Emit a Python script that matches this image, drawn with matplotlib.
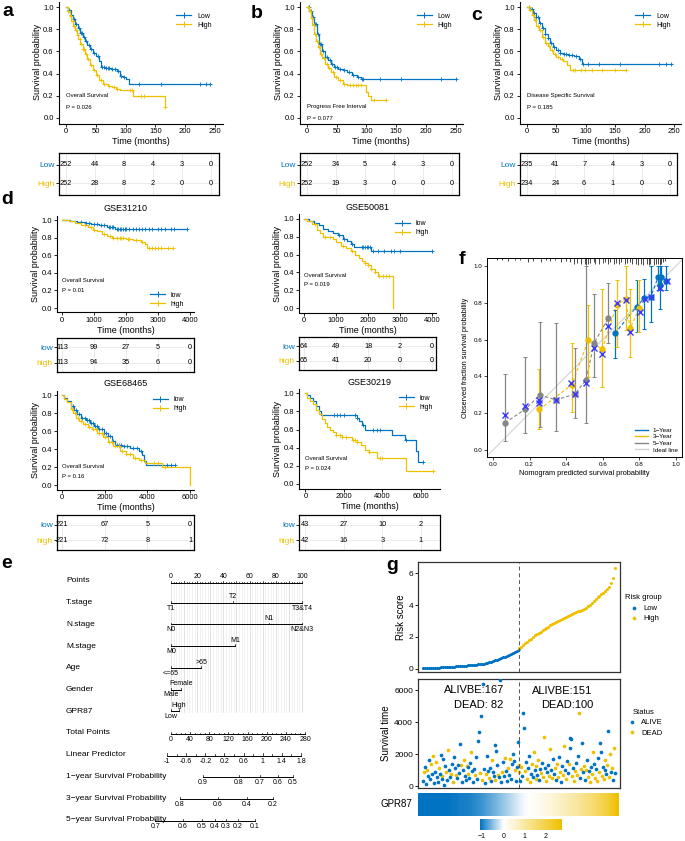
import numpy as np
import matplotlib
matplotlib.use("Agg")
import matplotlib.pyplot as plt
from matplotlib.lines import Line2D
from matplotlib.colors import LinearSegmentedColormap, Normalize

plt.rcParams["font.family"] = ["Liberation Sans", "DejaVu Sans"]

BLUE = "#0073C2"
GOLD = "#EFC000"
GREY = "#868686"

# ---------------- panel a-c : TCGA KM curves (months) ----------------
a_low_t = [0, 4, 8, 12, 16, 20, 24, 28, 32, 36, 40, 45, 50, 55, 58, 65, 75, 85, 90, 96, 101, 105]
a_low_s = [1.0, 0.97, 0.93, 0.89, 0.85, 0.81, 0.77, 0.73, 0.69, 0.66, 0.62, 0.59, 0.56, 0.51, 0.46,
           0.45, 0.44, 0.42, 0.38, 0.37, 0.35, 0.31]
a_low_c = [5, 9, 14, 17, 22, 25, 27, 30, 33, 38, 42, 47, 53, 60, 63, 67, 70, 73, 78, 82, 87, 93, 97,
           122, 160, 225, 235, 242]
a_high_t = [0, 3, 6, 9, 12, 15, 18, 21, 24, 28, 32, 36, 40, 45, 50, 56, 62, 70, 78, 84, 90, 113, 166]
a_high_s = [1.0, 0.96, 0.92, 0.87, 0.83, 0.79, 0.75, 0.71, 0.67, 0.62, 0.58, 0.53, 0.48, 0.43, 0.39,
            0.34, 0.31, 0.29, 0.28, 0.26, 0.25, 0.20, 0.10]
a_high_c = [4, 8, 11, 14, 17, 20, 23, 26, 29, 31, 34, 37, 42, 47, 52, 58, 64, 72, 80, 86, 108, 111,
            126, 131, 166]

b_low_t = [0, 4, 8, 12, 16, 20, 25, 30, 35, 40, 46, 52, 60, 68, 76, 84, 90]
b_low_s = [1.0, 0.96, 0.91, 0.85, 0.76, 0.67, 0.60, 0.55, 0.52, 0.49, 0.46, 0.44, 0.43, 0.41, 0.39,
           0.37, 0.35]
b_low_c = [3, 7, 10, 13, 15, 18, 21, 24, 27, 31, 34, 38, 42, 47, 50, 55, 62, 70, 78, 86, 92, 95,
           122, 158, 225, 250]
b_high_t = [0, 3, 6, 9, 12, 15, 18, 22, 26, 30, 35, 40, 46, 52, 60, 68, 100, 103, 108]
b_high_s = [1.0, 0.96, 0.90, 0.84, 0.76, 0.69, 0.64, 0.58, 0.54, 0.49, 0.45, 0.41, 0.37, 0.34, 0.31,
            0.30, 0.23, 0.20, 0.16]
b_high_c = [2, 5, 8, 11, 14, 17, 20, 24, 28, 33, 37, 43, 48, 55, 63, 72, 78, 82, 86, 90, 112, 133]

c_low_t = [0, 5, 10, 15, 20, 25, 30, 35, 40, 45, 50, 56, 62, 70, 80, 88, 93]
c_low_s = [1.0, 0.98, 0.95, 0.91, 0.86, 0.81, 0.76, 0.72, 0.68, 0.64, 0.61, 0.59, 0.58, 0.57, 0.56,
           0.53, 0.49]
c_low_c = [4, 8, 12, 16, 19, 23, 27, 31, 36, 41, 46, 52, 57, 63, 67, 72, 77, 83, 90, 96, 104, 122,
           158, 225, 236, 245]
c_high_t = [0, 4, 8, 12, 16, 20, 25, 30, 35, 40, 45, 50, 56, 62, 68, 74]
c_high_s = [1.0, 0.97, 0.93, 0.88, 0.83, 0.79, 0.73, 0.68, 0.65, 0.61, 0.58, 0.55, 0.53, 0.51, 0.48,
            0.435]
c_high_c = [3, 6, 10, 14, 18, 22, 27, 33, 38, 43, 48, 53, 60, 78, 82, 92, 98, 110, 128, 150, 168]

tcga_ticks = [0, 50, 100, 150, 200, 250]
a_risk = ([252, 44, 8, 4, 3, 0], [252, 28, 8, 2, 0, 0])
b_risk = ([252, 34, 5, 4, 3, 0], [252, 19, 3, 0, 0, 0])
c_risk = ([235, 41, 7, 4, 3, 0], [234, 24, 6, 1, 0, 0])

# ---------------- panel d : GEO validation cohorts ----------------
g312_low_t = [0, 250, 450, 700, 900, 1150, 1400, 1650]
g312_low_s = [1.0, 0.99, 0.98, 0.97, 0.96, 0.94, 0.92, 0.90]
g312_low_c = [600, 750, 850, 1000, 1100, 1200, 1300, 1450, 1500, 1550, 1600, 1700, 1750, 1800, 1850,
              1900, 1950, 2000, 2100, 2200, 2300, 2400, 2500, 2600, 2700, 2800, 3000, 3100, 3200,
              3400, 3500, 3900]
g312_high_t = [0, 200, 400, 600, 800, 950, 1100, 1250, 1400, 1550, 1750, 2000, 2200, 2450, 2600, 2650]
g312_high_s = [1.0, 0.99, 0.97, 0.94, 0.92, 0.89, 0.87, 0.84, 0.82, 0.80, 0.79, 0.78, 0.77, 0.75,
               0.73, 0.68]
g312_high_c = [700, 900, 1000, 1300, 1500, 1600, 1700, 1800, 1850, 1900, 2050, 2100, 2300, 2500,
               2700, 2800, 2900, 3000, 3100, 3300, 3450]

g500_low_t = [0, 150, 300, 450, 600, 750, 900, 1050, 1200, 1350, 1450, 1550, 2100]
g500_low_s = [1.0, 0.98, 0.96, 0.93, 0.89, 0.86, 0.84, 0.82, 0.78, 0.75, 0.72, 0.68, 0.64]
g500_low_c = [1100, 1250, 1500, 1800, 1850, 1900, 1950, 2000, 2050, 2150, 2300, 2500, 2700, 2800,
              3000, 3980]
g500_high_t = [0, 100, 250, 400, 500, 600, 900, 1000, 1150, 1300, 1450, 1600, 1700, 1800, 1900,
               2000, 2100, 2200, 2300, 2780]
g500_high_s = [1.0, 0.98, 0.94, 0.88, 0.84, 0.80, 0.78, 0.74, 0.70, 0.67, 0.64, 0.60, 0.56, 0.53,
               0.51, 0.48, 0.44, 0.40, 0.36, 0.0]
g500_high_c = [350, 650, 800, 1200, 1500, 1900, 2000, 2100, 2200, 2350, 2450, 2550, 2650]

g684_low_t = [0, 100, 250, 400, 550, 700, 900, 1100, 1300, 1500, 1700, 1950, 2150, 2350, 2500, 2800,
              3200, 3600, 3750, 3850, 3950]
g684_low_s = [1.0, 0.97, 0.93, 0.88, 0.83, 0.79, 0.75, 0.72, 0.69, 0.66, 0.62, 0.58, 0.54, 0.49, 0.45,
              0.43, 0.41, 0.38, 0.33, 0.27, 0.22]
g684_low_c = [500, 650, 800, 950, 1050, 1150, 1250, 1350, 1450, 1550, 1650, 1750, 1850, 1950, 2050,
              2150, 2250, 2400, 2550, 2650, 2750, 2900, 3050, 3300, 3500, 3700, 4700, 4900, 5100, 5300]
g684_high_t = [0, 100, 250, 400, 500, 650, 800, 1000, 1200, 1400, 1650, 1900, 2150, 2400, 2700, 3000,
               3300, 3600, 3900, 4700, 6000]
g684_high_s = [1.0, 0.96, 0.92, 0.85, 0.80, 0.75, 0.71, 0.68, 0.65, 0.62, 0.58, 0.53, 0.48, 0.43, 0.38,
               0.34, 0.30, 0.28, 0.25, 0.20, 0.0]
g684_high_c = [450, 600, 750, 900, 1050, 1250, 1450, 1600, 1750, 1850, 2000, 2200, 2350, 2500, 2650,
               2800, 3000, 3200, 3400, 3700, 4300, 4500, 4800]

g302_low_t = [0, 100, 250, 400, 550, 700, 800, 2700, 2800, 2950, 3100, 4500, 5200, 5750, 5850]
g302_low_s = [1.0, 0.98, 0.95, 0.91, 0.86, 0.81, 0.76, 0.73, 0.69, 0.65, 0.60, 0.54, 0.48, 0.36, 0.24]
g302_low_c = [1500, 1650, 1800, 2000, 2600, 2700, 3000, 3500, 3700, 3900, 5250, 6100]
g302_high_t = [0, 100, 250, 400, 550, 700, 850, 1000, 1150, 1300, 1450, 1600, 1900, 2400, 2700, 2900,
               3100, 3300, 3700, 5250]
g302_high_s = [1.0, 0.95, 0.91, 0.88, 0.82, 0.77, 0.72, 0.67, 0.63, 0.60, 0.57, 0.54, 0.52, 0.49, 0.46,
               0.43, 0.38, 0.35, 0.29, 0.14]
g302_high_c = [1600, 1800, 1900, 2100, 2500, 2600, 2700, 3300, 3900, 4000, 6650]

g312_risk = ([113, 99, 27, 5, 0], [113, 94, 35, 6, 0])
g500_risk = ([64, 49, 18, 2, 0], [65, 41, 20, 0, 0])
g684_risk = ([221, 67, 5, 0], [221, 72, 8, 1])
g302_risk = ([43, 27, 10, 2], [42, 16, 3, 1])

# ---------------- panel e : nomogram ----------------
nomo_rows = ["Points", "T.stage", "N.stage", "M.stage", "Age", "Gender", "GPR87", "Total Points",
             "Linear Predictor", "1\u2212year Survival Probability", "3\u2212year Survival Probability",
             "5\u2212year Survival Probability"]
var_levels = [["T1", "T2", "T3&T4"], ["N0", "N1", "N2&N3"], ["M0", "M1"], ["<=65", ">65"],
              ["Male", "Female"], ["Low", "High"]]
var_points = [[0, 47, 100], [0, 75, 100], [0, 49], [0, 23], [0, 8], [0, 6]]
lp_ticks = [-1, -0.6, -0.2, 0.2, 0.6, 1, 1.4, 1.8]
surv1_prob = [0.9, 0.8, 0.7, 0.6, 0.5]
surv1_tp = [67, 142, 186, 223, 255]
surv3_prob = [0.8, 0.6, 0.4, 0.2]
surv3_tp = [19, 98, 159, 213]
surv5_prob = [0.7, 0.6, 0.5, 0.4, 0.3, 0.2, 0.1]
surv5_tp = [-33, 25, 65, 92, 115, 140, 175]

# ---------------- panel f : calibration ----------------
cal1_x = [0.667, 0.785, 0.825, 0.862, 0.904, 0.91, 0.92, 0.944]
cal1_y = [0.634, 0.779, 0.824, 0.833, 0.942, 0.897, 0.94, 0.92]
cal1_lo = [0.498, 0.643, 0.66, 0.697, 0.87, 0.767, 0.87, 0.87]
cal1_hi = [0.761, 0.924, 0.93, 1.0, 1.0, 1.0, 1.0, 1.0]
cal3_x = [0.253, 0.43, 0.521, 0.597, 0.676, 0.725, 0.749, 0.8]
cal3_y = [0.221, 0.353, 0.598, 0.547, 0.788, 0.819, 0.661, 0.77]
cal3_lo = [0.113, 0.208, 0.398, 0.341, 0.561, 0.652, 0.504, 0.643]
cal3_hi = [0.439, 0.583, 0.788, 0.873, 0.924, 1.0, 0.873, 0.924]
cal5_x = [0.066, 0.175, 0.257, 0.344, 0.448, 0.508, 0.552, 0.63]
cal5_y = [0.148, 0.221, 0.299, 0.272, 0.304, 0.38, 0.58, 0.716]
cal5_lo = [0.05, 0.094, 0.127, 0.105, 0.172, 0.145, 0.395, 0.58]
cal5_hi = [0.413, 0.507, 0.697, 0.688, 0.553, 1.0, 0.85, 0.906]
corr_x = [0.067, 0.175, 0.253, 0.253, 0.344, 0.426, 0.446, 0.508, 0.552, 0.597, 0.63, 0.676, 0.725,
          0.749, 0.805, 0.83, 0.862, 0.91, 0.95]
corr_y = [0.188, 0.24, 0.272, 0.255, 0.272, 0.366, 0.303, 0.366, 0.553, 0.522, 0.674, 0.801, 0.815,
          0.643, 0.747, 0.82, 0.83, 0.88, 0.92]
rug_x = [0.02, 0.05, 0.08, 0.12, 0.15, 0.19, 0.22, 0.26, 0.29, 0.31, 0.34, 0.37, 0.40, 0.42, 0.44,
         0.46, 0.48, 0.50, 0.51, 0.52, 0.53, 0.55, 0.56, 0.58, 0.60, 0.61, 0.63, 0.64, 0.66, 0.67,
         0.69, 0.70, 0.72, 0.73, 0.75, 0.76, 0.78, 0.79, 0.81, 0.82, 0.84, 0.85, 0.86, 0.88, 0.89,
         0.90, 0.91, 0.92, 0.93, 0.94]
rug_h = [0.01, 0.01, 0.015, 0.01, 0.01, 0.02, 0.015, 0.02, 0.01, 0.015, 0.01, 0.02, 0.015, 0.02, 0.03,
         0.025, 0.03, 0.035, 0.04, 0.03, 0.025, 0.02, 0.03, 0.035, 0.025, 0.02, 0.03, 0.02, 0.03, 0.025,
         0.035, 0.02, 0.03, 0.025, 0.02, 0.03, 0.035, 0.04, 0.03, 0.04, 0.035, 0.04, 0.03, 0.04, 0.035,
         0.03, 0.04, 0.035, 0.02, 0.015]

# ---------------- panel g : risk score / survival / GPR87 ----------------
risk_low = [0.03, 0.05, 0.06, 0.07, 0.07, 0.08, 0.08, 0.09, 0.09, 0.10,
            0.10, 0.11, 0.12, 0.12, 0.13, 0.14, 0.15, 0.16, 0.17, 0.18,
            0.19, 0.20, 0.21, 0.22, 0.23, 0.24, 0.25, 0.26, 0.28, 0.30,
            0.31, 0.33, 0.35, 0.38, 0.41, 0.44, 0.48, 0.53, 0.58, 0.63,
            0.68, 0.72, 0.76, 0.80, 0.86, 0.92, 0.98, 1.05, 1.12, 1.22]
risk_high = [1.30, 1.40, 1.50, 1.60, 1.70, 1.80, 1.90, 2.00, 2.10, 2.18,
             2.26, 2.34, 2.42, 2.50, 2.58, 2.65, 2.72, 2.79, 2.86, 2.93,
             3.00, 3.06, 3.12, 3.18, 3.24, 3.30, 3.36, 3.42, 3.48, 3.54,
             3.60, 3.64, 3.68, 3.73, 3.82, 3.92, 4.02, 4.12, 4.24, 4.36,
             4.48, 4.58, 4.68, 4.78, 4.90, 5.02, 5.15, 5.35, 5.70, 6.30]
low_time = [320, 850, 1200, 150, 980, 600, 1650, 410, 1350, 720,
            1900, 180, 900, 1500, 560, 260, 1100, 780, 1950, 430,
            640, 1700, 90, 1250, 870, 350, 2250, 1020, 540, 760,
            1400, 280, 1820, 1150, 690, 470, 1300, 830, 2640, 1300,
            220, 990, 1600, 610, 380, 1240, 1180, 750, 500, 1450,
            2100, 930, 270, 1050, 660, 1800, 420, 2800, 3400, 800,
            4400, 360, 6400, 1080, 200, 720, 1900, 950, 490, 1150,
            300, 1650, 860, 630, 2560, 400, 2200, 1330, 710, 540,
            6600, 250, 880, 1480, 620, 1750, 960, 340, 1120, 680,
            1700, 450, 1380, 2000, 1560, 1000, 290, 1200, 2750, 1300]
low_dead = [0, 1, 0, 0, 1, 0, 0, 0, 1, 0,
            1, 0, 0, 1, 0, 0, 1, 0, 0, 0,
            1, 0, 0, 0, 1, 0, 1, 0, 0, 1,
            0, 1, 0, 0, 1, 0, 0, 0, 0, 1,
            0, 0, 1, 0, 0, 1, 0, 1, 0, 0,
            1, 0, 0, 0, 1, 0, 0, 0, 0, 1,
            0, 1, 0, 0, 0, 1, 0, 0, 1, 0,
            0, 1, 0, 0, 0, 1, 0, 0, 1, 0,
            0, 0, 1, 0, 0, 1, 0, 0, 1, 0,
            1, 0, 0, 0, 0, 1, 0, 0, 0, 1]
high_time = [850, 300, 1200, 640, 4560, 3625, 920, 1500, 410, 1100,
             1900, 260, 760, 1350, 580, 2100, 980, 450, 1250, 700,
             1600, 380, 1050, 820, 1450, 540, 3060, 1150, 300, 880,
             1300, 620, 2300, 990, 470, 1700, 760, 1100, 350, 1400,
             560, 1800, 900, 240, 1250, 680, 2500, 1020, 430, 1550,
             790, 1350, 2400, 3000, 2950, 600, 1120, 320, 960, 1450,
             700, 1900, 4560, 480, 1080, 2700, 850, 1280, 390, 1000,
             1650, 560, 920, 280, 1200, 740, 2150, 1400, 500, 1050,
             330, 1750, 860, 2690, 2125, 640, 1180, 420, 980, 1600,
             720, 1300, 3440, 540, 2000, 880, 1150, 400, 2350, 800]
high_dead = [1, 0, 1, 0, 0, 0, 1, 0, 1, 0,
             0, 1, 0, 1, 0, 1, 0, 1, 1, 0,
             1, 0, 0, 1, 0, 1, 1, 0, 1, 0,
             0, 1, 1, 0, 1, 0, 0, 1, 0, 1,
             1, 0, 1, 0, 0, 1, 1, 0, 1, 0,
             0, 1, 0, 0, 0, 1, 0, 1, 1, 0,
             1, 0, 1, 0, 1, 0, 0, 1, 0, 1,
             0, 1, 0, 1, 0, 1, 1, 0, 1, 0,
             1, 0, 1, 0, 0, 1, 0, 1, 0, 1,
             0, 1, 0, 1, 1, 0, 1, 0, 1, 0]
gpr87 = [-1.1, -1.1, -1.1, -1.1, -1.1, -1.1, -1.1, -1.1, -1.05, -1.05,
         -1.0, -1.0, -0.98, -0.95, -0.9, -0.85, -0.8, -0.72, -0.65, -0.58,
         -0.5, -0.42, -0.34, -0.26, -0.18, -0.1, -0.04, 0.0, 0.06, 0.12,
         0.2, 0.28, 0.36, 0.45, 0.55, 0.65, 0.75, 0.85, 0.95, 1.05,
         1.15, 1.28, 1.4, 1.55, 1.7, 1.85, 2.0, 2.2, 2.45, 2.75]
gpr87_range = (-1.1, 2.75)
n_patients = 500
n_low = 249

W, H = 685, 841
fig = plt.figure(figsize=(W / 100, H / 100), dpi=100)


def box(l, t, r, b):
    return fig.add_axes([l / W, 1 - b / H, (r - l) / W, (b - t) / H])


def km_curve(ax, t, s, end, cens, color, label):
    t = np.asarray(t, float)
    s = np.asarray(s, float)
    ax.step(np.append(t, end), np.append(s, s[-1]), where="post", color=color, lw=0.9)
    idx = np.searchsorted(t, cens, side="right") - 1
    ax.plot(cens, s[idx], ls="none", marker="+", color=color, ms=3.5, mew=0.6)
    return Line2D([], [], color=color, marker="+", lw=0.9, ms=4, mew=0.7, label=label)


def km_panel(ax, curves, xlim, xticks, note, pval, note_y, leg_anchor, title=None):
    handles = [km_curve(ax, *c) for c in curves]
    ax.set_xlim(xlim)
    ax.set_ylim(-0.05, 1.05)
    ax.set_xticks(xticks)
    ax.set_yticks([0, 0.2, 0.4, 0.6, 0.8, 1.0])
    ax.set_yticklabels(["0.0", "0.2", "0.4", "0.6", "0.8", "1.0"])
    for sp in ["top", "right"]:
        ax.spines[sp].set_visible(False)
    for sp in ["left", "bottom"]:
        ax.spines[sp].set_linewidth(0.8)
    ax.tick_params(labelsize=5.5, length=2, width=0.6, pad=1.5)
    ax.set_ylabel("Survival probability", fontsize=6.5, labelpad=1)
    ax.set_xlabel("Time (months)", fontsize=6.5, labelpad=1)
    ax.text(xticks[0], note_y, note, fontsize=4.3, va="center")
    ax.text(xticks[0], note_y - 0.11, pval, fontsize=4.3, va="center")
    loc = "upper right" if leg_anchor[1] > 0.5 else "lower right"
    ax.legend(handles=handles, loc=loc, bbox_to_anchor=leg_anchor, fontsize=5,
              frameon=False, handlelength=2.2, labelspacing=0.3, borderaxespad=0.0)
    if title:
        ax.set_title(title, fontsize=6.5, pad=3)


def risk_table(ax, xlim, xticks, counts, names):
    ax.set_xlim(xlim)
    ax.set_ylim(0, 2)
    for x in xticks:
        ax.axvline(x, color="#e8e8e8", lw=0.6, zorder=0)
    for y in (0.55, 1.45):
        ax.axhline(y, color="#e8e8e8", lw=0.6, zorder=0)
    for x, n in zip(xticks, counts[0]):
        ax.text(x, 1.45, str(n), ha="center", va="center", fontsize=5.3)
    for x, n in zip(xticks, counts[1]):
        ax.text(x, 0.55, str(n), ha="center", va="center", fontsize=5.3)
    ax.set_xticks([])
    ax.set_yticks([0.55, 1.45])
    ax.set_yticklabels([names[1], names[0]])
    ax.tick_params(axis="y", labelsize=6, length=2, width=0.6, pad=1)
    labs = ax.get_yticklabels()
    labs[0].set_color(GOLD)
    labs[1].set_color(BLUE)
    for sp in ax.spines.values():
        sp.set_linewidth(0.9)


# ---------- a, b, c ----------
tcga = [
    ((58.5, 222.5), (a_low_t, a_low_s, 242, a_low_c), (a_high_t, a_high_s, 166, a_high_c),
     "Overall Survival", "P = 0.026", 0.2, a_risk),
    ((299.6, 463), (b_low_t, b_low_s, 250, b_low_c), (b_high_t, b_high_s, 133, b_high_c),
     "Progress Free Interval", "P = 0.077", 0.105, b_risk),
    ((519.6, 681.4), (c_low_t, c_low_s, 247, c_low_c), (c_high_t, c_high_s, 168, c_high_c),
     "Disease Specific Survival", "P = 0.185", 0.2, c_risk),
]
for (l, r), lo, hi, note, p, ny, rk in tcga:
    ax = box(l, 1.5, r, 123.5)
    km_panel(ax, [(*lo, BLUE, "Low"), (*hi, GOLD, "High")], (-12.5, 262.5), tcga_ticks,
             note, p, ny, (0.95, 0.93))
    tab = box(l, 153, r - 4, 195)
    risk_table(tab, (-12.5, 262.5), tcga_ticks, rk, ("Low", "High"))

# ---------- d ----------
geo = [
    ((57, 215.6, 194, 312.4), (57, 338, 192, 372), (-160, 4120), [0, 1000, 2000, 3000, 4000],
     (g312_low_t, g312_low_s, 3900, g312_low_c), (g312_high_t, g312_high_s, 3450, g312_high_c),
     "GSE31210", "P = 0.01", 0.31, (0.95, 0.02), g312_risk),
    ((299, 214.5, 436, 312.5), (299, 337, 442, 370), (-160, 4120), [0, 1000, 2000, 3000, 4000],
     (g500_low_t, g500_low_s, 3980, g500_low_c), (g500_high_t, g500_high_s, 2780, g500_high_c),
     "GSE50081", "P = 0.019", 0.37, (0.97, 0.97), g500_risk),
    ((57, 390.5, 194, 489.5), (57, 515, 195, 550), (-240, 6180), [0, 2000, 4000, 6000],
     (g684_low_t, g684_low_s, 5300, g684_low_c), (g684_high_t, g684_high_s, 6000, g684_high_c),
     "GSE68465", "P = 0.16", 0.21, (0.97, 0.97), g684_risk),
    ((299, 388.8, 440, 488.5), (299, 515, 442, 550), (-330, 7000), [0, 2000, 4000, 6000],
     (g302_low_t, g302_low_s, 6100, g302_low_c), (g302_high_t, g302_high_s, 6650, g302_high_c),
     "GSE30219", "P = 0.024", 0.28, (0.97, 0.97), g302_risk),
]
for kmb, tb, xl, xt, lo, hi, title, p, ny, leg, rk in geo:
    ax = box(*kmb)
    km_panel(ax, [(*lo, BLUE, "low"), (*hi, GOLD, "high")], xl, xt, "Overall Survival", p, ny, leg,
             title=title)
    tab = box(kmb[0], tb[1], kmb[2], tb[3])
    risk_table(tab, xl, xt, rk, ("low", "high"))

# ---------- e : nomogram ----------
ax = box(0, 560, 320, 841)
px_per_pt = 131.0 / 100
ax.set_xlim(-171 / px_per_pt, (320 - 171) / px_per_pt)
ax.set_ylim(841, 560)
ax.axis("off")
row_y = 581 + 21.7 * np.arange(len(nomo_rows))
for name, y in zip(nomo_rows, row_y):
    ax.text(-105 / px_per_pt, y, name, fontsize=6, va="center", ha="left")

pts_y = row_y[0] + 2
for p in range(0, 101, 2):
    ax.plot([p, p], [pts_y, row_y[6] + 1], color="#d4d4d4" if p % 10 == 0 else "#ececec",
            lw=0.5, zorder=0)
ax.plot([0, 100], [pts_y, pts_y], color="black", lw=0.7)
for p in range(0, 101, 2):
    ax.plot([p, p], [pts_y, pts_y - (2.2 if p % 10 == 0 else 1.3)], color="black", lw=0.5)
for p in range(0, 101, 20):
    ax.text(p, pts_y - 3.5, str(p), ha="center", va="bottom", fontsize=5)

for i, (levels, pts) in enumerate(zip(var_levels, var_points)):
    y = row_y[i + 1]
    ax.plot([min(pts), max(pts)], [y, y], color="black", lw=0.7)
    for j, (lev, p) in enumerate(zip(levels, pts)):
        ax.plot([p, p], [y, y - 1.8], color="black", lw=0.5)
        if j % 2 == 1:
            ax.text(p, y - 2.2, lev, ha="center", va="bottom", fontsize=5)
        else:
            ax.text(p, y + 1.8, lev, ha="center", va="top", fontsize=5)

tp_scale = 102.3 / 280
y = row_y[7] + 1
ax.plot([0, 280 * tp_scale], [y, y], color="black", lw=0.7)
for tp in range(0, 281, 10):
    ax.plot([tp * tp_scale] * 2, [y, y - (2.2 if tp % 40 == 0 else 1.3)], color="black", lw=0.5)
for tp in range(0, 281, 40):
    ax.text(tp * tp_scale, y + 2, str(tp), ha="center", va="top", fontsize=5)

lp_a, lp_b = 33.5, 36.5
y = row_y[8] + 1
ax.plot([lp_a + lp_b * -1, lp_a + lp_b * 1.8], [y, y], color="black", lw=0.7)
for k in range(15):
    v = -1 + 0.2 * k
    ax.plot([lp_a + lp_b * v] * 2, [y, y - (2.2 if k % 2 == 0 else 1.3)], color="black", lw=0.5)
for v in lp_ticks:
    ax.text(lp_a + lp_b * v, y + 2, f"{v:g}", ha="center", va="top", fontsize=5)

for k, (probs, tps) in enumerate([(surv1_prob, surv1_tp), (surv3_prob, surv3_tp),
                                  (surv5_prob, surv5_tp)]):
    y = row_y[9 + k] + 1
    xs = np.array(tps) * tp_scale
    ax.plot([xs.min(), xs.max()], [y, y], color="black", lw=0.7)
    for x, pr in zip(xs, probs):
        ax.plot([x, x], [y, y - 2.2], color="black", lw=0.5)
        ax.text(x, y + 2, f"{pr:g}", ha="center", va="top", fontsize=5)

# ---------- f : calibration ----------
ax = box(487, 258, 682, 457)
ax.set_xlim(-0.033, 1.033)
ax.set_ylim(-0.038, 1.043)
ax.plot([-0.05, 1.05], [-0.05, 1.05], color="#d3d3d3", lw=0.8, zorder=1)
cal = [(cal1_x, cal1_y, cal1_lo, cal1_hi, BLUE, "1\u2212Year"),
       (cal3_x, cal3_y, cal3_lo, cal3_hi, GOLD, "3\u2212Year"),
       (cal5_x, cal5_y, cal5_lo, cal5_hi, GREY, "5\u2212Year")]
handles = []
for xs, ys, lo, hi, c, lab in cal:
    xs, ys, lo, hi = map(np.asarray, (xs, ys, lo, hi))
    order = np.argsort(xs)
    ax.plot(xs[order], ys[order], ls=(0, (3, 2)), color=c, lw=0.8, zorder=2)
    ax.errorbar(xs, ys, yerr=[ys - lo, hi - ys], fmt="o", color=c, ms=3.5, elinewidth=0.9,
                capsize=1.5, capthick=0.7, zorder=3)
    handles.append(Line2D([], [], color=c, lw=1, label=lab))
handles.append(Line2D([], [], color="#d3d3d3", lw=1, label="Ideal line"))
ax.plot(corr_x, corr_y, ls="none", marker="x", color="#3838ff", ms=4, mew=1.0, zorder=4)
ax.vlines(rug_x, 1.043 - np.array(rug_h), 1.043, color="black", lw=0.5)
ax.set_xticks(np.arange(0, 1.01, 0.2))
ax.set_yticks(np.arange(0, 1.01, 0.2))
ax.set_xticklabels([f"{v:.1f}" for v in np.arange(0, 1.01, 0.2)])
ax.set_yticklabels([f"{v:.1f}" for v in np.arange(0, 1.01, 0.2)])
ax.tick_params(labelsize=4.5, length=2, width=0.5, pad=1.5)
for sp in ax.spines.values():
    sp.set_linewidth(0.7)
ax.set_xlabel("Nomogram predicted survival probability", fontsize=5.3, labelpad=2)
ax.set_ylabel("Observed fraction survival probability", fontsize=5.3, labelpad=3)
ax.legend(handles=handles, loc="lower right", fontsize=4.5, frameon=False, handlelength=2,
          labelspacing=0.2, borderaxespad=0.3)

# ---------- g ----------
x_low = np.linspace(1, n_low, len(risk_low))
x_high = np.linspace(n_low + 1, n_patients, len(risk_high))
glim = (-12.5, n_patients + 12.5)

ax = box(418, 562, 620, 672)
ax.scatter(x_low, risk_low, s=5, color=BLUE, lw=0, label="Low")
ax.scatter(x_high, risk_high, s=5, color=GOLD, lw=0, label="High")
ax.axvline(n_low + 0.5, color="#555555", lw=0.7, ls=(0, (4, 3)))
ax.set_xlim(glim)
ax.set_ylim(-0.19, 6.69)
ax.set_xticks([])
ax.set_yticks([0, 2, 4, 6])
ax.tick_params(labelsize=6, length=2, width=0.6, pad=1.5)
ax.set_ylabel("Risk score", fontsize=7, labelpad=2)
for sp in ax.spines.values():
    sp.set_linewidth(0.9)
    sp.set_color("#333333")
ax.legend(title="Risk group", loc="center left", bbox_to_anchor=(1.0, 0.58), frameon=False,
          fontsize=5.5, title_fontsize=5.5, markerscale=1.2, handletextpad=0.2, labelspacing=0.4,
          borderaxespad=0.2)

ax = box(418, 679, 620, 788)
xl_s = np.linspace(1, n_low, len(low_time))
xh_s = np.linspace(n_low + 1, n_patients, len(high_time))
px = np.concatenate([xl_s, xh_s])
pt = np.concatenate([low_time, high_time])
pdead = np.concatenate([low_dead, high_dead]).astype(bool)
ax.scatter(px[~pdead], pt[~pdead], s=7, color=BLUE, lw=0, label="ALIVE", zorder=3)
ax.scatter(px[pdead], pt[pdead], s=7, color=GOLD, lw=0, label="DEAD", zorder=2)
ax.axvline(n_low + 0.5, color="#555555", lw=0.7, ls=(0, (4, 3)))
ax.set_xlim(glim)
ax.set_ylim(-125, 6690)
ax.set_xticks([])
ax.set_yticks([0, 2000, 4000, 6000])
ax.tick_params(labelsize=6, length=2, width=0.6, pad=1.5)
ax.set_ylabel("Survival time", fontsize=7, labelpad=2)
for sp in ax.spines.values():
    sp.set_linewidth(0.9)
    sp.set_color("#333333")
ax.text(134, 6000, "ALIVBE:167", fontsize=8, ha="center", va="center")
ax.text(146, 5060, "DEAD: 82", fontsize=8, ha="center", va="center")
ax.text(361, 5940, "ALIVBE:151", fontsize=8, ha="center", va="center")
ax.text(376, 5060, "DEAD:100", fontsize=8, ha="center", va="center")
ax.legend(title="Status", loc="center left", bbox_to_anchor=(1.0, 0.6), frameon=False,
          fontsize=5.5, title_fontsize=5.5, markerscale=1.0, handletextpad=0.2, labelspacing=0.4,
          borderaxespad=0.2)

white_at = (0 - gpr87_range[0]) / (gpr87_range[1] - gpr87_range[0])
cmap = LinearSegmentedColormap.from_list("bwy", [(0, BLUE), (white_at, "white"), (1, GOLD)])
norm = Normalize(vmin=gpr87_range[0], vmax=gpr87_range[1])
ax = box(418, 793, 619, 816)
im = ax.imshow(np.array(gpr87)[None, :], aspect="auto", cmap=cmap, norm=norm,
               extent=(0.5, n_patients + 0.5, 0, 1), interpolation="bilinear")
ax.axis("off")
fig.text(412 / W, 1 - 804 / H, "GPR87", fontsize=7, ha="right", va="center")
cax = box(480, 819, 562, 830)
cb = fig.colorbar(im, cax=cax, orientation="horizontal", ticks=[-1, 0, 1, 2])
cb.outline.set_visible(False)
cb.ax.tick_params(labelsize=5, length=1.5, width=0.5, pad=0.5, color="white")
cb.ax.set_xticklabels(["\u22121", "0", "1", "2"])

# ---------- panel letters ----------
for lab, x, y in [("a", 8, 12), ("b", 257, 14), ("c", 477, 15), ("d", 7, 200), ("e", 7, 563),
                  ("f", 462, 260), ("g", 392, 565)]:
    fig.text(x / W, 1 - y / H, lab, fontsize=14, fontweight="bold", ha="center", va="center")

plt.savefig("out.png", dpi=100)
plt.close()
